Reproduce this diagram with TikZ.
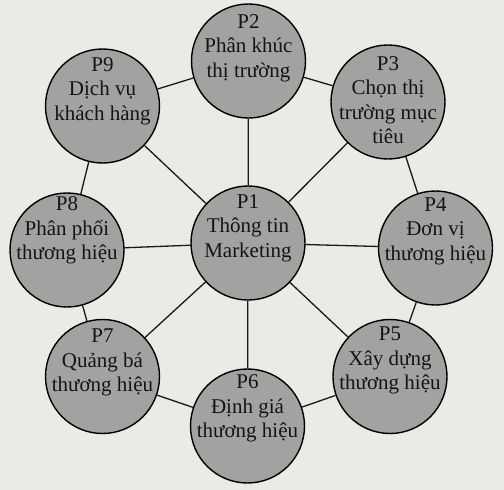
\documentclass[tikz,border=0pt]{standalone}
\usepackage{fontspec}
\setmainfont{Liberation Serif}
\definecolor{paper}{RGB}{236,234,231}
\definecolor{disk}{RGB}{162,162,160}
\definecolor{ink}{RGB}{20,20,20}
\tikzset{
  pball/.style={circle, draw=black, line width=1.4pt, fill=disk, minimum size=114pt, inner sep=0pt},
  ptext/.style={anchor=north, align=center, inner sep=0pt, text=ink, font=\fontsize{21}{24.5}\selectfont},
  link/.style={draw=black!90, line width=1.3pt}
}
\begin{document}
\begin{tikzpicture}[x=1pt,y=-1pt]
\fill[paper] (0,0) rectangle (504,490);
\useasboundingbox (0,0) rectangle (504,490);
\node[pball] (p1) at (248,243) {};
\node[pball] (p2) at (248.5,61) {};
\node[pball] (p3) at (388,102) {};
\node[pball] (p4) at (435.5,248) {};
\node[pball] (p5) at (390,376.5) {};
\node[pball] (p6) at (247.5,426) {};
\node[pball] (p7) at (102.5,376.5) {};
\node[pball] (p8) at (67,250) {};
\node[pball] (p9) at (102.5,106) {};
\foreach \n in {2,...,9} {\path[link] (p1) -- (p\n);}
\path[link] (p2) -- (p3);
\path[link] (p3) -- (p4);
\path[link] (p4) -- (p5);
\path[link] (p5) -- (p6);
\path[link] (p6) -- (p7);
\path[link] (p7) -- (p8);
\path[link] (p8) -- (p9);
\path[link] (p9) -- (p2);
\node[ptext] (t1) at ([yshift=49pt]p1.center) {P1\\Thông tin\\Marketing};
\node[ptext] (t2) at ([yshift=47pt]p2.center) {P2\\Phân khúc\\thị trường};
\node[ptext] (t3) at ([yshift=46pt]p3.center) {P3\\Chọn thị\\trường mục\\tiêu};
\node[ptext] (t4) at ([yshift=51pt]p4.center) {P4\\Đơn vị\\thương hiệu};
\node[ptext] (t5) at ([yshift=49.5pt]p5.center) {P5\\Xây dựng\\thương hiệu};
\node[ptext] (t6) at ([yshift=51.5pt]p6.center) {P6\\Định giá\\thương hiệu};
\node[ptext] (t7) at ([yshift=47.5pt]p7.center) {P7\\Quảng bá\\thương hiệu};
\node[ptext] (t8) at ([yshift=53.5pt]p8.center) {P8\\Phân phối\\thương hiệu};
\node[ptext] (t9) at ([yshift=49pt]p9.center) {P9\\Dịch vụ\\khách hàng};
\end{tikzpicture}
\end{document}
